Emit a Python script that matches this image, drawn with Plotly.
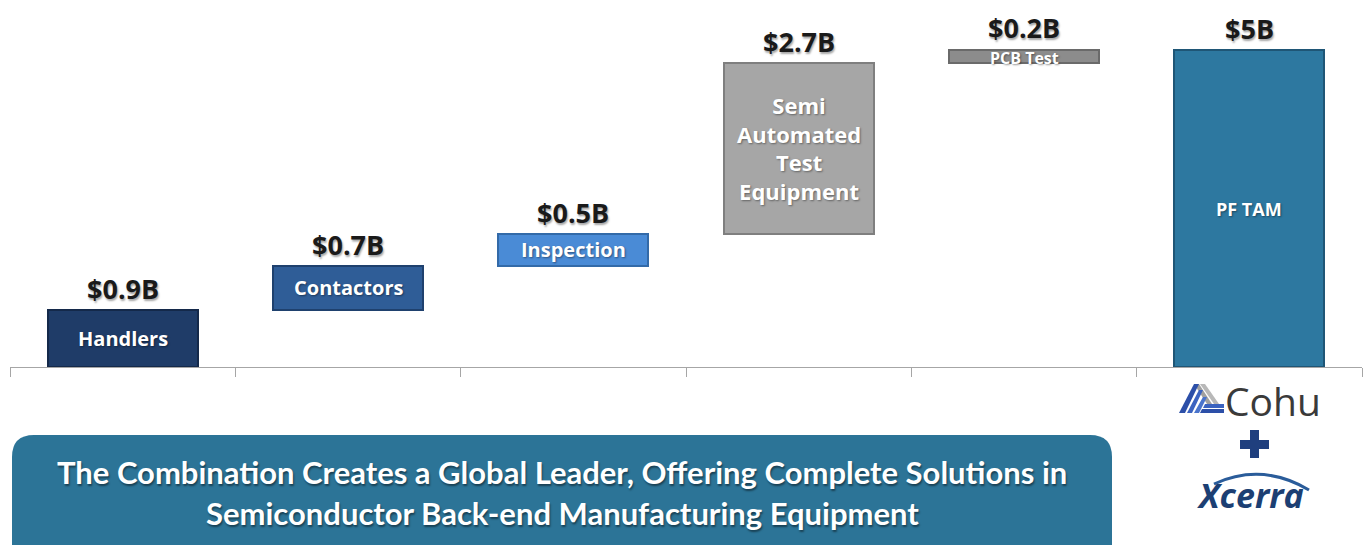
import plotly.graph_objects as go

categories = ["Handlers", "Contactors", "Inspection", "Semi Automated Test Equipment", "PCB Test", "PF TAM"]
bar_text = ["Handlers", "Contactors", "Inspection", "Semi<br>Automated<br>Test<br>Equipment", "PCB Test", "PF TAM"]
values = [0.9, 0.7, 0.5, 2.7, 0.2, 5.0]
value_labels = ["$0.9B", "$0.7B", "$0.5B", "$2.7B", "$0.2B", "$5B"]
is_total = [False, False, False, False, False, True]

colors = ["#1F3C68", "#2F5D97", "#4A8BD6", "#A6A6A6", "#8C8C8C", "#2D78A0"]
edges = ["#14294A", "#1F416E", "#336AA8", "#7F7F7F", "#6A6A6A", "#1F5676"]
text_sizes = [20, 20, 20, 22, 16, 18]
text_shift = [0, 0, 0, 0, -2, 0]
label_shift = [2, 2, 2, 2, 3, 2]

# bases for waterfall
bases = []
run = 0.0
for v, t in zip(values, is_total):
    if t:
        bases.append(0.0)
    else:
        bases.append(run)
        run += v

xs = list(range(len(categories)))

fig = go.Figure()
fig.add_trace(go.Bar(
    x=xs, y=values, base=bases, width=0.666,
    marker=dict(color=colors, line=dict(color=edges, width=2)),
    hoverinfo="skip", showlegend=False,
))

VF = "Open Sans"
ann = []
for i in xs:
    top = bases[i] + values[i]
    ann.append(dict(x=i, y=top, xref="x", yref="y", text="<b>%s</b>" % value_labels[i],
                    showarrow=False, xanchor="center", yanchor="bottom", yshift=label_shift[i],
                    borderpad=0,
                    font=dict(family=VF, size=27, color="#1A1A1A",
                              shadow="1px 2px 2px rgba(0,0,0,0.35)")))
    ann.append(dict(x=i, y=bases[i] + values[i] / 2, xref="x", yref="y",
                    text="<b>%s</b>" % bar_text[i], showarrow=False, borderpad=0,
                    xanchor="center", yanchor="middle", yshift=text_shift[i],
                    font=dict(family=VF, size=text_sizes[i], color="white",
                              shadow="1px 1px 2px rgba(0,0,0,0.4)")))

# page offset (body margin) and screen-pixel -> paper helpers
O = 8
W, H = 1372, 545
L = 10 - O
T = 10 - O
R = W - (1362 - O)
B = H - (367 - O)
PW, PH = W - L - R, H - T - B
def X(px):
    return (px - O - L) / PW
def Y(py):
    return (367 - py) / PH

shapes = []
# banner rounded rectangle
x0, x1, y0, y1, r = 12, 1112, 435, 570, 22
path = (f"M {X(x0+r)},{Y(y0)} L {X(x1-r)},{Y(y0)} Q {X(x1)},{Y(y0)} {X(x1)},{Y(y0+r)} "
        f"L {X(x1)},{Y(y1-r)} Q {X(x1)},{Y(y1)} {X(x1-r)},{Y(y1)} L {X(x0+r)},{Y(y1)} "
        f"Q {X(x0)},{Y(y1)} {X(x0)},{Y(y1-r)} L {X(x0)},{Y(y0+r)} Q {X(x0)},{Y(y0)} {X(x0+r)},{Y(y0)} Z")
shapes.append(dict(type="path", xref="paper", yref="paper", path=path,
                   fillcolor="#2C7497", line=dict(width=0), layer="above"))

def poly(pts, color):
    p = "M " + " L ".join(f"{X(a)},{Y(b)}" for a, b in pts) + " Z"
    return dict(type="path", xref="paper", yref="paper", path=p,
                fillcolor=color, line=dict(width=0), layer="above")

# Cohu icon
shapes.append(poly([(1194, 384), (1199, 384), (1212, 404), (1207, 404)], "#A0A0A0"))
shapes.append(poly([(1200, 384), (1205, 384), (1219, 404), (1214, 404)], "#B8B8B8"))
shapes.append(poly([(1194, 384), (1199, 384), (1185, 413), (1179, 413)], "#2C4FA8"))
shapes.append(poly([(1199, 390), (1203, 390), (1192, 413), (1187, 413)], "#3B63C0"))
shapes.append(poly([(1203, 397), (1207, 397), (1199, 413), (1194, 413)], "#4A74CC"))
shapes.append(poly([(1205, 404), (1224, 404), (1224, 408), (1203, 408)], "#3B63C0"))
shapes.append(poly([(1202, 409), (1224, 409), (1224, 413), (1200, 413)], "#2C4FA8"))
# plus sign
shapes.append(poly([(1250, 430), (1259, 430), (1259, 458), (1250, 458)], "#1F3F7E"))
shapes.append(poly([(1240, 440), (1269, 440), (1269, 449), (1240, 449)], "#1F3F7E"))
# Xcerra arc
shapes.append(dict(type="path", xref="paper", yref="paper",
                   path=f"M {X(1214)},{Y(484)} Q {X(1262)},{Y(462)} {X(1309)},{Y(490)}",
                   line=dict(color="#2A5C9A", width=3), layer="above"))

BF = "Lato"
ann.append(dict(x=X(562), y=Y(472), xref="paper", yref="paper", showarrow=False,
                xanchor="center", yanchor="middle",
                text="<b>The Combination Creates a Global Leader, Offering Complete Solutions in</b>",
                font=dict(family=BF, size=31, color="white", shadow="1px 2px 2px rgba(0,0,0,0.45)")))
ann.append(dict(x=X(562), y=Y(513), xref="paper", yref="paper", showarrow=False,
                xanchor="center", yanchor="middle",
                text="<b>Semiconductor Back-end Manufacturing Equipment</b>",
                font=dict(family=BF, size=31, color="white", shadow="1px 2px 2px rgba(0,0,0,0.45)")))
ann.append(dict(x=X(1273), y=Y(400), xref="paper", yref="paper", showarrow=False,
                xanchor="center", yanchor="middle",
                text="Cohu", font=dict(family="Open Sans", size=39, color="#3A3A3A")))
ann.append(dict(x=X(1250), y=Y(495), xref="paper", yref="paper", showarrow=False,
                xanchor="center", yanchor="middle",
                text="<b><i>Xcerra</i></b>", font=dict(family="Open Sans", size=34, color="#1C3F73")))

fig.update_layout(
    width=W, height=H, margin=dict(l=L, r=R, t=T, b=B),
    paper_bgcolor="white", plot_bgcolor="white",
    xaxis=dict(range=[-0.5, 5.5], tickvals=[i - 0.5 for i in range(7)], ticktext=[""] * 7,
               ticks="outside", ticklen=9, tickcolor="#A6A6A6", showline=True,
               linecolor="#A6A6A6", linewidth=1, showgrid=False, zeroline=False, fixedrange=True),
    yaxis=dict(range=[0, PH / 63.4], visible=False, showgrid=False, zeroline=False),
    annotations=ann, shapes=shapes, bargap=0,
)

fig.write_html("out.html")
